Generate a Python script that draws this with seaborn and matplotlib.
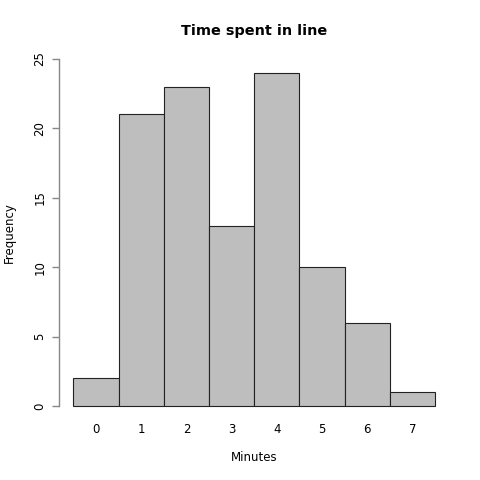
import matplotlib
matplotlib.use("Agg")
import matplotlib.pyplot as plt
import seaborn as sns
import pandas as pd

minutes = [0, 1, 2, 3, 4, 5, 6, 7]
counts = [2, 21, 23, 13, 24, 10, 6, 1]
y_ticks = [0, 5, 10, 15, 20, 25]

sns.set_style("white")
plt.rcParams['font.family'] = ['DejaVu Sans']
plt.rcParams['text.color'] = 'black'
plt.rcParams['axes.labelcolor'] = 'black'
plt.rcParams['xtick.color'] = 'black'
plt.rcParams['ytick.color'] = 'black'

df = pd.DataFrame({"Minutes": minutes, "Count": counts})

fig = plt.figure(figsize=(4.8, 4.8), dpi=100)
ax = fig.add_axes([59/480, 60/480, (449.5-59)/480, (420-45)/480])
sns.histplot(data=df, x="Minutes", weights="Count", discrete=True, ax=ax,
             color="#BEBEBE", edgecolor="#222222", linewidth=0.8, alpha=1)

ax.set_xlim(-0.5 - 0.32, 7.5 + 0.32)
ax.set_ylim(-1, 26)
ax.set_xticks(minutes)
ax.set_yticks(y_ticks)
ax.set_yticklabels([str(v) for v in y_ticks], rotation=90, va="center")
for s in ["top", "right", "bottom"]:
    ax.spines[s].set_visible(False)
ax.spines["left"].set_bounds(0, 25)
ax.spines["left"].set_color("#888888")
ax.spines["left"].set_linewidth(1.0)
ax.tick_params(axis="y", length=5, width=1.0, color="#888888", labelcolor="black",
               labelsize=8.5, pad=4, left=True)
ax.tick_params(axis="x", length=0, labelsize=8.5, pad=2, labelcolor="black")
ax.set_xlabel("Minutes", fontsize=8.5, labelpad=11, color="black")
ax.set_ylabel("Frequency", fontsize=8.5, labelpad=13, color="black")
ax.set_title("Time spent in line", fontsize=10.4, fontweight="bold", pad=7.5, color="black")
ax.grid(False)

fig.savefig("out.png", dpi=100)
